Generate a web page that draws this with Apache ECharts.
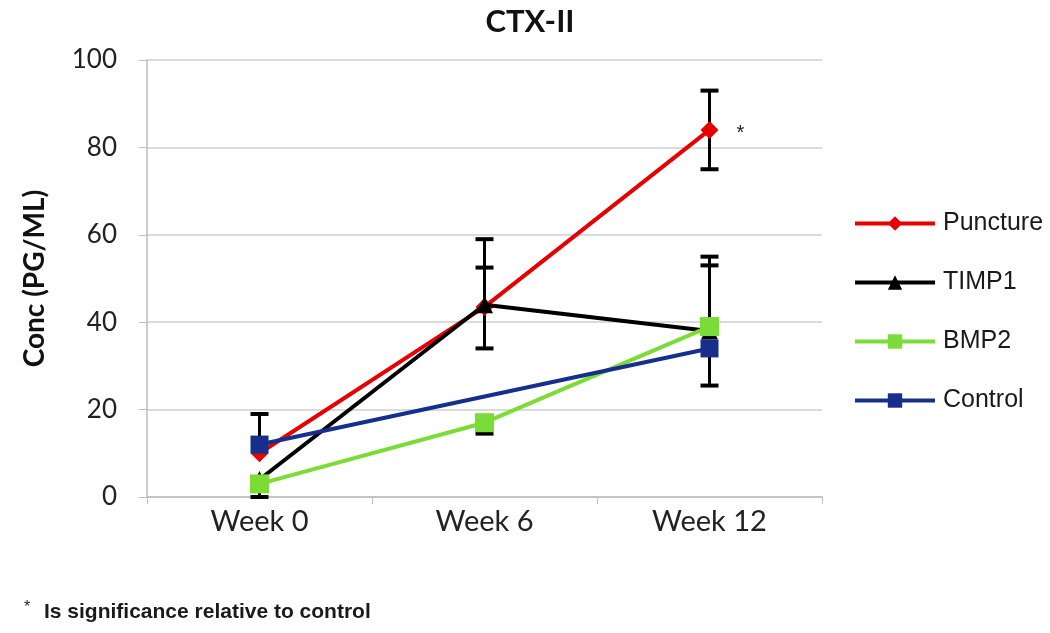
<!DOCTYPE html>
<html>
<head>
<meta charset="utf-8">
<script src="https://cdn.jsdelivr.net/npm/echarts@6/dist/echarts.min.js"></script>
<style>html,body{margin:0;padding:0;background:#fff}#c{width:1050px;height:633px}</style>
</head>
<body>
<div id="c"></div>
<script>
const categories = ['Week 0', 'Week 6', 'Week 12'];
const yTicks = [0, 20, 40, 60, 80, 100];
const puncture = [10, 43.5, 84];
const timp1 = [4, 44, 38];
const bmp2 = [3, 17, 39];
const control = [12, null, 34];
const punctureErrUp = [0, 9, 9];
const punctureErrDown = [0, 9.5, 9];
const timp1ErrUp = [0, 15, 15];
const timp1ErrDown = [0, 0, 0];
const bmp2ErrUp = [0, 0, 16];
const bmp2ErrDown = [3, 2.5, 0];
const controlErrUp = [7, 0, 0];
const controlErrDown = [0, 0, 8.5];

function errData(vals, up, down) {
  const out = [];
  vals.forEach((v, i) => {
    if (v == null) return;
    if (up[i] === 0 && down[i] === 0) return;
    out.push([i, v - down[i], v + up[i], down[i] > 0 ? 1 : 0, up[i] > 0 ? 1 : 0]);
  });
  return out;
}
const errAll = [].concat(
  errData(puncture, punctureErrUp, punctureErrDown),
  errData(timp1, timp1ErrUp, timp1ErrDown),
  errData(bmp2, bmp2ErrUp, bmp2ErrDown),
  errData(control, controlErrUp, controlErrDown)
);

const chart = echarts.init(document.getElementById('c'));
const axisFont = 'Lato, "Open Sans", sans-serif';
const arial = '"Liberation Sans", Arial, sans-serif';
chart.setOption({
  animation: false,
  title: {
    text: 'CTX-II', left: 525, top: 1, textAlign: 'center',
    textStyle: { fontFamily: axisFont, fontWeight: 'bold', fontSize: 31, color: '#111' }
  },
  grid: { left: 147, right: 228, top: 60, bottom: 136 },
  legend: {
    orient: 'vertical', left: 848, top: 206, itemGap: 34,
    itemWidth: 80, itemHeight: 18,
    lineStyle: { width: 4 },
    textStyle: { fontFamily: arial, fontSize: 25, color: '#1a1a1a', padding: [0, 0, 0, 3] },
    data: ['Puncture', 'TIMP1', 'BMP2', 'Control']
  },
  xAxis: {
    type: 'category', data: categories, boundaryGap: true,
    axisLine: { lineStyle: { color: '#bdbdbd', width: 1.5 } },
    axisTick: { show: true, length: 7, lineStyle: { color: '#bdbdbd' } },
    axisLabel: { fontFamily: axisFont, fontSize: 29, color: '#222', margin: 10 }
  },
  yAxis: {
    type: 'value', min: 0, max: 100, interval: 20,
    name: 'Conc (PG/ML)', nameLocation: 'middle', nameGap: 98,
    nameTextStyle: { fontFamily: axisFont, fontWeight: 'bold', fontSize: 28, color: '#111' },
    axisLine: { show: true, lineStyle: { color: '#bdbdbd', width: 1.5 } },
    axisTick: { show: true, length: 8, lineStyle: { color: '#bdbdbd' } },
    splitLine: { lineStyle: { color: '#cfcfcf', width: 1.5 } },
    axisLabel: { fontFamily: axisFont, fontSize: 26, color: '#222', margin: 30,
      formatter: v => yTicks.includes(v) ? String(v) : '' }
  },
  series: [
    {
      type: 'custom', name: 'err', z: 1, silent: true,
      data: errAll,
      renderItem: function (params, api) {
        const x = api.value(0);
        const lo = api.coord([x, api.value(1)]);
        const hi = api.coord([x, api.value(2)]);
        const hw = 9;
        const children = [{
          type: 'line', shape: { x1: lo[0], y1: lo[1], x2: hi[0], y2: hi[1] },
          style: { stroke: '#000', lineWidth: 3 }
        }];
        if (api.value(3)) children.push({ type: 'line', shape: { x1: lo[0] - hw, y1: lo[1], x2: lo[0] + hw, y2: lo[1] }, style: { stroke: '#000', lineWidth: 4 } });
        if (api.value(4)) children.push({ type: 'line', shape: { x1: hi[0] - hw, y1: hi[1], x2: hi[0] + hw, y2: hi[1] }, style: { stroke: '#000', lineWidth: 4 } });
        return { type: 'group', children };
      }
    },
    {
      name: 'Puncture', type: 'line', z: 2, data: puncture.map((v, i) => i === 2 ? {
        value: v, label: { show: true, formatter: '*', position: 'right', distance: 18, fontSize: 20, color: '#222', offset: [0, 4] }
      } : v),
      symbol: 'diamond', symbolSize: 18,
      lineStyle: { color: '#e60000', width: 4 }, itemStyle: { color: '#e60000' }
    },
    {
      name: 'TIMP1', type: 'line', z: 3, data: timp1,
      symbol: 'triangle', symbolSize: 17,
      lineStyle: { color: '#000', width: 4 }, itemStyle: { color: '#000' }
    },
    {
      name: 'BMP2', type: 'line', z: 4, data: bmp2,
      symbol: 'rect', symbolSize: 19,
      lineStyle: { color: '#7bdc37', width: 4 }, itemStyle: { color: '#7bdc37' }
    },
    {
      name: 'Control', type: 'line', z: 5, data: control, connectNulls: true,
      symbol: 'rect', symbolSize: 18,
      lineStyle: { color: '#172f8c', width: 4 }, itemStyle: { color: '#172f8c' }
    }
  ],
  graphic: [{
    type: 'text', left: 24, top: 600,
    style: { text: '*', fontFamily: arial, fontSize: 16, fill: '#222' }
  }, {
    type: 'text', left: 44, top: 602,
    style: { text: 'Is significance relative to control', fontFamily: arial, fontWeight: 'bold', fontSize: 21, fill: '#1a1a1a' }
  }]
});
</script>
</body>
</html>
